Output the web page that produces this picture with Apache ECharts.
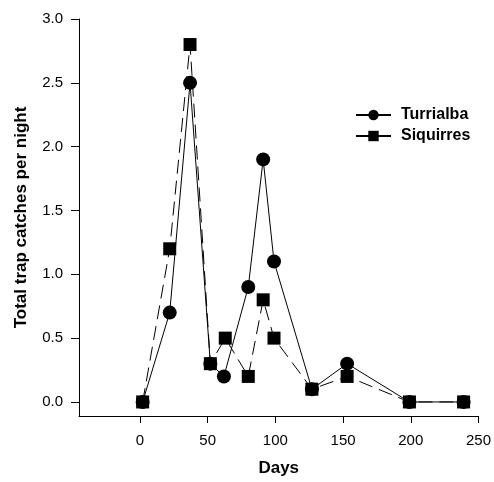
<!DOCTYPE html>
<html><head><meta charset="utf-8">
<script src="https://cdn.jsdelivr.net/npm/echarts@6/dist/echarts.min.js"></script>
<style>html,body{margin:0;padding:0;background:#fff}#c{width:494px;height:482px}</style>
</head><body><div id="c"></div>
<script>
const turrialbaDays = [2, 22, 37, 52, 62, 80, 91, 99, 127, 153, 199, 239];
const turrialbaVals = [0, 0.7, 2.5, 0.3, 0.2, 0.9, 1.9, 1.1, 0.1, 0.3, 0, 0];
const siquirresDays = [2, 22, 37, 52, 63, 80, 91, 99, 127, 153, 199, 239];
const siquirresVals = [0, 1.2, 2.8, 0.3, 0.5, 0.2, 0.8, 0.5, 0.1, 0.2, 0, 0];
const xTicks = [0, 50, 100, 150, 200, 250];
const yTicks = [0, 0.5, 1, 1.5, 2, 2.5, 3];

const font = 'Liberation Sans, Arial, sans-serif';
const chart = echarts.init(document.getElementById('c'));
chart.setOption({
  animation: false,
  backgroundColor: '#fff',
  grid: {left: 79, right: 13, top: 19, bottom: 62, containLabel: false},
  legend: {
    orient: 'vertical', left: 350, top: 102, itemWidth: 35, itemHeight: 13, itemGap: 5,
    textStyle: {fontFamily: font, fontWeight: 'bold', fontSize: 16, lineHeight: 16, color: '#000', padding: [0, 0, 0, 5]},
    lineStyle: {type: 'solid'},
    data: ['Turrialba', 'Siquirres']
  },
  xAxis: {
    type: 'value', min: -45, max: 250,
    name: 'Days', nameLocation: 'middle', nameGap: 44,
    nameTextStyle: {fontFamily: font, fontWeight: 'bold', fontSize: 17, color: '#000'},
    axisLine: {show: true, onZero: false, lineStyle: {color: '#000', width: 1}},
    axisTick: {show: true, length: 7, customValues: xTicks, lineStyle: {color: '#000'}},
    axisLabel: {customValues: xTicks, fontFamily: font, fontSize: 15, color: '#000', margin: 17},
    splitLine: {show: false}
  },
  yAxis: {
    type: 'value', min: -0.11, max: 3.0,
    name: 'Total trap catches per night', nameLocation: 'middle', nameGap: 49, nameRotate: 90,
    nameTextStyle: {fontFamily: font, fontWeight: 'bold', fontSize: 17, color: '#000'},
    axisLine: {show: true, onZero: false, lineStyle: {color: '#000', width: 1}},
    axisTick: {show: true, length: 8, customValues: yTicks, lineStyle: {color: '#000'}},
    axisLabel: {customValues: yTicks, fontFamily: font, fontSize: 15, color: '#000', margin: 16,
      formatter: v => v.toFixed(1)},
    splitLine: {show: false}
  },
  series: [
    {
      name: 'Siquirres', type: 'line', symbol: 'rect', symbolSize: 13,
      data: siquirresDays.map((d, i) => [d, siquirresVals[i]]),
      itemStyle: {color: '#000'},
      lineStyle: {color: '#000', width: 1, type: [14, 7]},
      z: 2
    },
    {
      name: 'Turrialba', type: 'line', symbol: 'circle', symbolSize: 14,
      data: turrialbaDays.map((d, i) => [d, turrialbaVals[i]]),
      itemStyle: {color: '#000'},
      lineStyle: {color: '#000', width: 1, type: 'solid'},
      z: 3
    }
  ]
});
</script></body></html>
